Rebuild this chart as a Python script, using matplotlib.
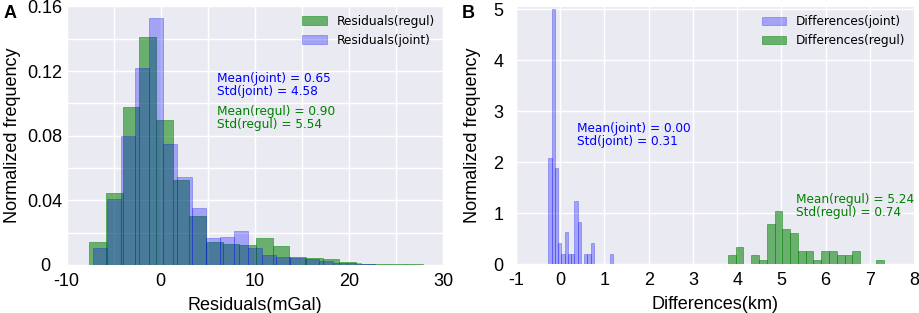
import numpy as np
import matplotlib
matplotlib.use("Agg")
import matplotlib.pyplot as plt
from matplotlib.ticker import MultipleLocator, FixedLocator

plt.rcParams['axes.unicode_minus'] = False

# Panel A: residuals (mGal), normalized histogram heights, 20 bins each
resid_regul_range = (-7.60, 27.83)
resid_regul = [0.0144, 0.0447, 0.0975, 0.141, 0.090, 0.0526, 0.0303, 0.0144, 0.0128, 0.0124,
               0.0169, 0.0118, 0.0052, 0.0045, 0.0037, 0.0021, 0.0008, 0.0006, 0.0004, 0.0004]
resid_joint_range = (-7.24, 22.80)
resid_joint = [0.0107, 0.0408, 0.080, 0.122, 0.153, 0.075, 0.0546, 0.035, 0.0165, 0.0175,
               0.021, 0.0103, 0.0062, 0.0052, 0.0041, 0.0035, 0.0022, 0.0014, 0.0010, 0.0008]

# Panel B: depth differences (km)
diff_joint_range = (-0.27, 1.20)
diff_joint = [2.08, 5.0, 1.88, 0.41, 0.2, 0.62, 0.2, 0.2, 1.24, 0.83,
              0, 0.2, 0.2, 0.41, 0, 0, 0, 0, 0, 0.2]
diff_regul_range = (3.79, 7.31)
diff_regul = [0.177, 0.34, 0, 0.177, 0.079, 0.786, 1.048, 0.694, 0.602, 0.255,
              0.255, 0.079, 0.255, 0.255, 0.177, 0.177, 0.255, 0, 0, 0.079]

a_xticks = [-10, 0, 10, 20, 30]
a_yticks = [0, 0.04, 0.08, 0.12, 0.16]
a_ylabels = ['0', '0.04', '0.08', '0.12', '0.16']

stats_a = ["Mean(joint) = 0.65\nStd(joint) = 4.58", "Mean(regul) = 0.90\nStd(regul) = 5.54"]
stats_b = ["Mean(joint) = 0.00\nStd(joint) = 0.31", "Mean(regul) = 5.24\nStd(regul) = 0.74"]

BG = '#EAEAF2'
TICKFONT = 'Liberation Sans'
GREEN_A = 0.55
BLUE_A = 0.3


def draw_hist(ax, rng, heights, color, alpha, label):
    edges = np.linspace(rng[0], rng[1], len(heights) + 1)
    ax.hist(edges[:-1], bins=edges, weights=heights, color=color, alpha=alpha,
            edgecolor=color, linewidth=0.6, label=label)


def style_axes(ax, ypad):
    ax.set_facecolor(BG)
    for s in ax.spines.values():
        s.set_visible(False)
    ax.set_axisbelow(True)
    ax.grid(True, which='both', color='white', linewidth=1.0)
    ax.tick_params(which='both', length=0, labelsize=13)
    ax.tick_params(axis='x', pad=5.5)
    ax.tick_params(axis='y', pad=ypad)
    for lab in ax.get_xticklabels() + ax.get_yticklabels():
        lab.set_fontfamily(TICKFONT)


fig = plt.figure(figsize=(9.2, 3.13), dpi=100)
axA = fig.add_axes([0.0725, 0.1534, 0.409, 0.826])
axB = fig.add_axes([0.5609, 0.1565, 0.4326, 0.8225])

# --- Panel A
draw_hist(axA, resid_regul_range, resid_regul, 'g', GREEN_A, 'Residuals(regul)')
draw_hist(axA, resid_joint_range, resid_joint, 'b', BLUE_A, 'Residuals(joint)')
axA.set_xlim(-10, 30)
axA.set_ylim(0, 0.16)
axA.xaxis.set_major_locator(FixedLocator(a_xticks))
axA.xaxis.set_minor_locator(MultipleLocator(5))
axA.yaxis.set_major_locator(FixedLocator(a_yticks))
axA.yaxis.set_minor_locator(MultipleLocator(0.02))
axA.set_xticklabels([str(v) for v in a_xticks])
axA.set_yticklabels(a_ylabels)
style_axes(axA, ypad=15.6)
for lab in axA.get_yticklabels():
    lab.set_horizontalalignment('center')
axA.set_xlabel('Residuals(mGal)', fontsize=13, family=TICKFONT, labelpad=5)
axA.set_ylabel('Normalized frequency', fontsize=13, family=TICKFONT, labelpad=5)
axA.legend(loc='upper right', frameon=False, fontsize=8.7, borderaxespad=0.3)
axA.text(6.0, 0.1195, stats_a[0], color='b', fontsize=8.7, va='top', linespacing=1.0)
axA.text(6.0, 0.099, stats_a[1], color='g', fontsize=8.7, va='top', linespacing=1.0)

# --- Panel B
draw_hist(axB, diff_joint_range, diff_joint, 'b', BLUE_A, 'Differences(joint)')
draw_hist(axB, diff_regul_range, diff_regul, 'g', GREEN_A, 'Differences(regul)')
axB.set_xlim(-1, 8)
axB.set_ylim(0, 5.05)
axB.xaxis.set_major_locator(MultipleLocator(1))
axB.yaxis.set_major_locator(MultipleLocator(1))
style_axes(axB, ypad=9)
axB.set_xlabel('Differences(km)', fontsize=13, family=TICKFONT, labelpad=5)
axB.set_ylabel('Normalized frequency', fontsize=13, family=TICKFONT, labelpad=9)
axB.legend(loc='upper right', frameon=False, fontsize=8.7, borderaxespad=0.3)
axB.text(0.376, 2.78, stats_b[0], color='b', fontsize=8.7, va='top', linespacing=1.0)
axB.text(5.32, 1.40, stats_b[1], color='g', fontsize=8.7, va='top', linespacing=1.0)

fig.text(0.004, 0.985, 'A', fontsize=13, fontweight='bold', family=TICKFONT, va='top')
fig.text(0.502, 0.985, 'B', fontsize=13, fontweight='bold', family=TICKFONT, va='top')

fig.savefig('out.png', dpi=100)
